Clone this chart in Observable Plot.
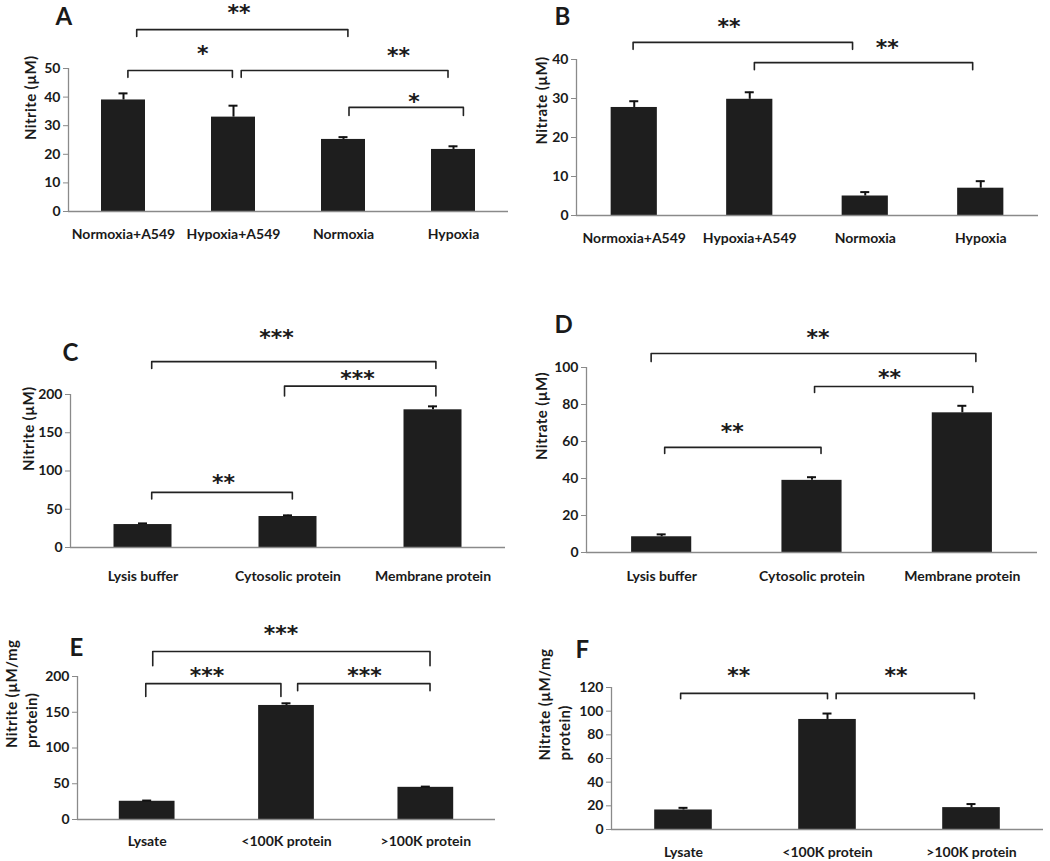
<!DOCTYPE html>
<html><head><meta charset="utf-8">
<script src="https://cdn.jsdelivr.net/npm/d3@7"></script>
<script src="https://cdn.jsdelivr.net/npm/@observablehq/plot@0.6"></script>
<style>
body{margin:0;background:#fff;}
#wrap{position:relative;width:1050px;height:861px;overflow:hidden;background:#fff;}
#wrap svg{position:absolute;overflow:visible;}
[aria-label="y-axis tick"]{stroke:#8a8a8a;}
.ylab text{letter-spacing:0.4px;}
</style></head><body><div id="wrap"></div>
<script>
// ---- data ----
const catsAB = ["Normoxia+A549", "Hypoxia+A549", "Normoxia", "Hypoxia"];
const catsCD = ["Lysis buffer", "Cytosolic protein", "Membrane protein"];
const catsEF = ["Lysate", "<100K protein", ">100K protein"];

const valA = [39, 33, 25.2, 21.7];   const errA = [2.3, 4, 0.8, 1.1];
const valB = [27.7, 29.8, 5, 7];     const errB = [1.6, 1.8, 1, 1.8];
const valC = [30, 40.5, 180];        const errC = [1.5, 1.5, 4.5];
const valD = [8.5, 39, 75.5];        const errD = [1.3, 1.7, 3.8];
const valE = [25.5, 159.5, 45];      const errE = [1, 3, 1];
const valF = [16.5, 93, 18.5];       const errF = [1.8, 5, 3];

const ticksA = [0, 10, 20, 30, 40, 50];
const ticksB = [0, 10, 20, 30, 40];
const ticksC = [0, 50, 100, 150, 200];
const ticksD = [0, 20, 40, 60, 80, 100];
const ticksE = [0, 50, 100, 150, 200];
const ticksF = [0, 20, 40, 60, 80, 100, 120];

// significance brackets: from/to category (index units), level & legs in data units
const sigA = [
  {from: 0.12, to: 2.04, y: 63.6, legL: 2.4, legR: 2.4, label: "**", sx: 1.05, sy: 71},
  {from: 0.04, to: 0.99, y: 49.3, legL: 2.4, legR: 2.4, label: "*",  sx: 0.72, sy: 57},
  {from: 1.07, to: 2.95, y: 49.3, legL: 2.4, legR: 2.4, label: "**", sx: 2.5,  sy: 56.3},
  {from: 2.05, to: 3.09, y: 36.4, legL: 2.8, legR: 2.8, label: "*",  sx: 2.64, sy: 39.9}
];
const sigB = [
  {from: -0.01, to: 1.89, y: 44.4, legL: 1.8, legR: 1.8, label: "**", sx: 0.82, sy: 49.7},
  {from: 1.04,  to: 2.93, y: 39.2, legL: 1.8, legR: 1.8, label: "**", sx: 2.19, sy: 44.2}
];
const sigC = [
  {from: 0.06,  to: 2.02, y: 243, legL: 9,  legR: 9,  label: "***", sx: 0.92, sy: 281},
  {from: 0.976, to: 2.02, y: 211, legL: 13, legR: 13, label: "***", sx: 1.48, sy: 227},
  {from: 0.06,  to: 1.03, y: 72,  legL: 8.5, legR: 8.5, label: "**", sx: 0.555, sy: 91.5}
];
const sigD = [
  {from: -0.07, to: 2.09, y: 107.6, legL: 4.4, legR: 4.4, label: "**", sx: 1.04, sy: 118.9},
  {from: 1.017, to: 2.07, y: 89.7,  legL: 3.2, legR: 3.2, label: "**", sx: 1.516, sy: 96.8},
  {from: 0.02,  to: 1.06, y: 56.8,  legL: 3.3, legR: 3.3, label: "**", sx: 0.47, sy: 68.1}
];
const sigE = [
  {from: 0.04,  to: 2.03, y: 235, legL: 20, legR: 20, label: "***", sx: 0.96, sy: 266},
  {from: -0.01, to: 0.96, y: 190, legL: 18, legR: 18, label: "***", sx: 0.43, sy: 208},
  {from: 1.08,  to: 2.03, y: 190, legL: 10, legR: 10, label: "***", sx: 1.56, sy: 208}
];
const sigF = [
  {from: -0.02, to: 1.0,  y: 115, legL: 4.5, legR: 4.5, label: "**", sx: 0.384, sy: 134},
  {from: 1.06,  to: 2.02, y: 115, legL: 4.5, legR: 4.5, label: "**", sx: 1.475, sy: 134}
];

// ---- layout ----
const panels = [
  {letter: "A", cats: catsAB, vals: valA, errs: errA, ticks: ticksA, sig: sigA, ylabel: "Nitrite (µM)",
   left: 0, top: 0, width: 525, height: 250, mL: 68, mR: 17, mT: 68, mB: 39, pad: 18, labDx: -39, labDy: 0, letDx: -13, letDy: -61},
  {letter: "B", cats: catsAB, vals: valB, errs: errB, ticks: ticksB, sig: sigB, ylabel: "Nitrate (µM)",
   left: 525, top: 0, width: 525, height: 250, mL: 51, mR: 12, mT: 59, mB: 35, pad: 18, labDx: -36, labDy: 7, letDx: -22, letDy: -52},
  {letter: "C", cats: catsCD, vals: valC, errs: errC, ticks: ticksC, sig: sigC, ylabel: "Nitrite (µM)",
   left: 0, top: 290, width: 525, height: 300, mL: 70, mR: 20, mT: 104, mB: 43, pad: 24, labDx: -43, labDy: 0, letDx: -8, letDy: -51},
  {letter: "D", cats: catsCD, vals: valD, errs: errD, ticks: ticksD, sig: sigD, ylabel: "Nitrate (µM)",
   left: 525, top: 290, width: 525, height: 300, mL: 61, mR: 13, mT: 77, mB: 38, pad: 19, labDx: -46, labDy: 0, letDx: -32, letDy: -52},
  {letter: "E", cats: catsEF, vals: valE, errs: errE, ticks: ticksE, sig: sigE, ylabel: "Nitrite (µM/mg\nprotein)",
   left: 0, top: 590, width: 525, height: 271, mL: 77, mR: 30, mT: 86, mB: 42, pad: 17, labDx: -57, labDy: 0, letDx: -8, letDy: -38},
  {letter: "F", cats: catsEF, vals: valF, errs: errF, ticks: ticksF, sig: sigF, ylabel: "Nitrate (µM/mg\nprotein)",
   left: 525, top: 590, width: 525, height: 271, mL: 86, mR: 7, mT: 97, mB: 32, pad: 18, labDx: -58, labDy: 2, letDx: -36, letDy: -47}
];

const INK = "#1a1a1a";
const AXIS = "#8a8a8a";
const wrap = document.getElementById("wrap");

for (const p of panels) {
  const n = p.cats.length;
  const rows = p.vals.map((v, i) => ({i, v, e: p.errs[i]}));
  const yMax = p.ticks[p.ticks.length - 1];
  const bandPx = (p.width - p.mL - p.mR) / n;
  const hw = 0.2;                 // half bar width, in category units
  const cap = 4.5 / bandPx;       // half error cap width
  const pts = [];
  p.sig.forEach((s, k) => {
    pts.push({k, x: s.from, y: s.y - s.legL});
    pts.push({k, x: s.from, y: s.y});
    pts.push({k, x: s.to, y: s.y});
    pts.push({k, x: s.to, y: s.y - s.legR});
  });
  const svg = Plot.plot({
    width: p.width, height: p.height,
    marginLeft: p.mL, marginRight: p.mR, marginTop: p.mT, marginBottom: p.mB,
    style: {fontFamily: "Lato, sans-serif", fontWeight: "bold", fontSize: "14px", color: INK, background: "transparent",
            left: p.left + "px", top: p.top + "px"},
    x: {domain: [-0.5, n - 0.5], ticks: d3.range(n), tickFormat: i => p.cats[i], tickSize: 0, tickPadding: p.pad, label: null},
    y: {domain: [0, yMax], ticks: p.ticks, tickSize: 5, tickPadding: 3, label: null},
    marks: [
      Plot.rect(rows, {x1: d => d.i - hw, x2: d => d.i + hw, y1: 0, y2: "v", fill: "#1e1e1e"}),
      Plot.ruleX(rows, {x: "i", y1: "v", y2: d => d.v + d.e, stroke: "#111", strokeWidth: 2}),
      Plot.ruleY(rows, {y: d => d.v + d.e, x1: d => d.i - cap, x2: d => d.i + cap, stroke: "#111", strokeWidth: 2}),
      Plot.ruleY([0], {stroke: AXIS, strokeWidth: 1.3}),
      Plot.ruleX([-0.5], {y1: 0, y2: yMax, stroke: AXIS, strokeWidth: 1.3}),
      Plot.line(pts, {x: "x", y: "y", z: "k", stroke: "#222", strokeWidth: 1.6, strokeLinejoin: "round"}),
      Plot.text(p.sig, {x: "sx", y: "sy", text: "label", fontSize: 22, fontFamily: "DejaVu Sans", fontWeight: "bold", fill: INK, dy: 5}),
      Plot.text([p.ylabel], {text: d => d, frameAnchor: "left", rotate: -90, dx: p.labDx, dy: p.labDy, fontSize: 15, lineHeight: 1.35, fill: INK, className: "ylab"}),
      Plot.text([p.letter], {text: d => d, frameAnchor: "top-left", dx: p.letDx, dy: p.letDy, textAnchor: "start", lineAnchor: "top", fontSize: 24, fill: INK})
    ]
  });
  svg.style.position = "absolute";
  svg.style.left = p.left + "px";
  svg.style.top = p.top + "px";
  wrap.appendChild(svg);
}
</script>
</body></html>
